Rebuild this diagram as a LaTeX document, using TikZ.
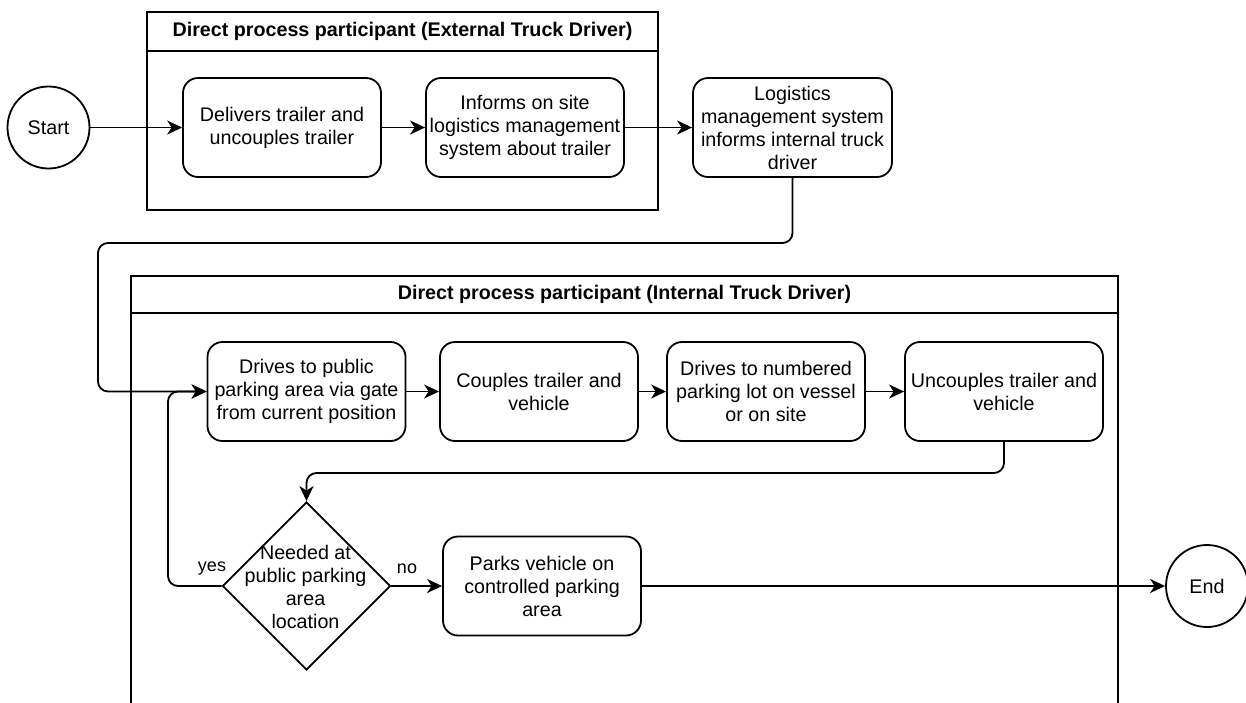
\documentclass[tikz,border=0pt]{standalone}
\usepackage{fontspec}
\setmainfont{Liberation Sans}
\usetikzlibrary{shapes.geometric,arrows.meta}
\begin{document}
\begin{tikzpicture}[x=1pt,y=-1pt,
  line width=1.8pt,
  base/.style={font=\fontsize{19.7}{23}\selectfont, align=center},
  task/.style={base, draw, rounded corners=15pt, minimum width=198pt, minimum height=99pt, inner sep=0pt},
  terminal/.style={base, draw, circle, minimum size=82pt, inner sep=0pt},
  decision/.style={draw, diamond, aspect=1, minimum width=168pt, minimum height=168pt, inner sep=0pt},
  lanetitle/.style={font=\fontsize{19.7}{23}\selectfont\bfseries, inner sep=0pt},
  lbl/.style={font=\fontsize{18}{21}\selectfont, inner sep=0pt},
  flow/.style={-{Stealth[length=15pt,width=14pt,inset=4.5pt]}, rounded corners=10pt},
]
\useasboundingbox (0,0) rectangle (1246,702);

% swimlanes
\draw (147,12) rectangle (658,210);
\draw (147,51) -- (658,51);
\node[lanetitle] (lane1) at (402.5,31.5) {Direct process participant (External Truck Driver)};

\begin{scope}
  \clip (0,0) rectangle (1246,702);
  \draw (131,276) rectangle (1118,730);
  \draw (131,313) -- (1118,313);
\end{scope}
\node[lanetitle] (lane2) at (624.5,294.5) {Direct process participant (Internal Truck Driver)};

% nodes
\node[terminal] (start) at (48.5,127.5) {Start};
\node[task] (b1) at (282,127.5) {Delivers trailer and\\uncouples trailer};
\node[task] (b2) at (525,127.5) {Informs on site\\logistics management\\system about trailer};
\node[task, minimum width=199pt] (b3) at (792.5,127.5) {Logistics\\management system\\informs internal truck\\driver};

\node[task] (b4) at (306.5,391.5) {Drives to public\\parking area via gate\\from current position};
\node[task] (b5) at (539,391.5) {Couples trailer and\\vehicle};
\node[task] (b6) at (766,391.5) {Drives to numbered\\parking lot on vessel\\or on site};
\node[task] (b7) at (1004,391.5) {Uncouples trailer and\\vehicle};

\node[decision] (dia) at (306.5,586) {};
\node[base, inner sep=0pt] (diatext) at (305.5,587) {Needed at\\public parking\\area\\location};
\node[task] (b8) at (542,586) {Parks vehicle on\\controlled parking\\area};
\begin{scope}
  \clip (0,0) rectangle (1246,702);
  \node[terminal] (end) at (1207,586) {End};
\end{scope}

% bend points of the routed connectors
\coordinate (k1) at (98,243);
\coordinate (k2) at (306.5,473);
\coordinate (k3) at (168,391.5);

% connectors
\draw[flow] (start) -- (b1);
\draw[flow] (b1) -- (b2);
\draw[flow] (b2) -- (b3);
\draw[flow] (b3.south) |- (k1) |- (b4.west);
\draw[flow] (b4) -- (b5);
\draw[flow] (b5) -- (b6);
\draw[flow] (b6) -- (b7);
\draw[flow] (b7.south) |- (k2) -- (dia.north);
\draw[flow] (dia.west) -| (k3) -- (b4.west);
\draw[flow] (dia.east) -- (b8.west);
\draw[flow] (b8.east) -- (end.west);

% branch labels
\node[lbl] (yes) at (212,569) {yes};
\node[lbl] (no) at (407,569) {no};
\end{tikzpicture}
\end{document}
